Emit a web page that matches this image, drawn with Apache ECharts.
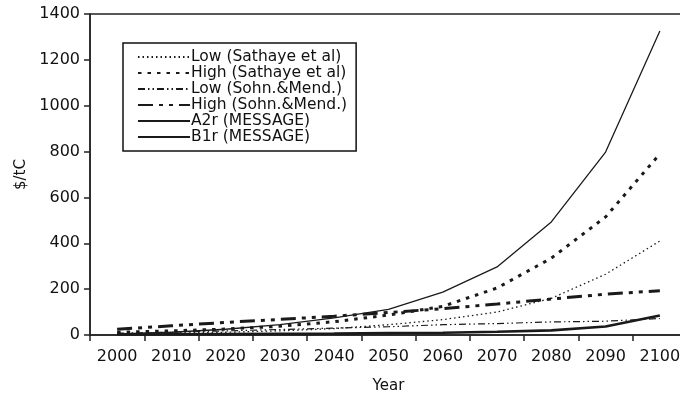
<!DOCTYPE html>
<html>
<head>
<meta charset="utf-8">
<script src="https://cdn.jsdelivr.net/npm/echarts@6/dist/echarts.min.js"></script>
<style>html,body{margin:0;padding:0;background:#fff}#c{width:680px;height:397px}</style>
</head>
<body>
<div id="c"></div>
<script>
const years = ['2000','2010','2020','2030','2040','2050','2060','2070','2080','2090','2100'];
const lowSathaye  = [5, 8, 12, 18, 28, 45, 67, 100, 160, 265, 410];
const highSathaye = [12, 18, 26, 38, 58, 87, 125, 205, 335, 515, 790];
const lowSohn     = [8, 12, 18, 24, 30, 36, 45, 50, 57, 60, 72];
const highSohn    = [25, 40, 55, 68, 82, 98, 115, 135, 157, 178, 193];
const a2r         = [5, 12, 25, 45, 75, 112, 187, 297, 493, 798, 1326];
const b1r         = [2, 3, 4, 5, 6, 8, 10, 14, 20, 37, 85];
const yTicks = [0, 200, 400, 600, 800, 1000, 1200, 1400];

const FONT = 'DejaVu Sans';
const K = '#1a1a1a';
function ser(name, data, width, type) {
  return {
    name, type: 'line', data, symbol: 'none', smooth: false,
    lineStyle: { color: K, width, type },
    itemStyle: { color: K },
    emphasis: { disabled: true }
  };
}
const chart = echarts.init(document.getElementById('c'), null, { renderer: 'canvas' });
chart.setOption({
  animation: false,
  backgroundColor: '#fff',
  textStyle: { fontFamily: FONT },
  grid: { left: 90, top: 14, width: 597, height: 321, outerBoundsMode: 'none', containLabel: false,
    show: true, borderColor: '#222', borderWidth: 1.5, backgroundColor: 'transparent' },
  legend: {
    orient: 'vertical', left: 123, top: 43,
    padding: [6, 9, 6, 14],
    borderColor: '#111', borderWidth: 1.5,
    itemWidth: 52, itemHeight: 14, itemGap: 0,
    itemStyle: { opacity: 0 },
    textStyle: { fontFamily: FONT, fontSize: 15.5, color: '#111', lineHeight: 16, padding: [0, 0, 0, -4] },
    data: ['Low (Sathaye et al)', 'High (Sathaye et al)', 'Low (Sohn.&Mend.)', 'High (Sohn.&Mend.)', 'A2r (MESSAGE)', 'B1r (MESSAGE)']
  },
  xAxis: {
    type: 'category', data: years, boundaryGap: true,
    name: 'Year', nameLocation: 'middle', nameGap: 44,
    nameTextStyle: { fontFamily: FONT, fontSize: 15, color: '#111' },
    axisLine: { lineStyle: { color: '#222', width: 1.5 } },
    axisTick: { show: true, length: 6, lineStyle: { color: '#222', width: 1.5 } },
    axisLabel: { fontFamily: FONT, fontSize: 16, color: '#111', margin: 14 },
    splitLine: { show: false }
  },
  yAxis: {
    type: 'value', min: 0, max: 1400, interval: 200,
    name: '$/tC', nameLocation: 'middle', nameGap: 57, nameRotate: 90,
    nameTextStyle: { fontFamily: FONT, fontSize: 15, color: '#111' },
    axisLine: { show: true, lineStyle: { color: '#222', width: 1.5 } },
    axisTick: { show: true, length: 6, lineStyle: { color: '#222', width: 1.5 } },
    axisLabel: { fontFamily: FONT, fontSize: 16, color: '#111', margin: 10,
      formatter: v => yTicks.includes(v) ? String(v) : '' },
    splitLine: { show: false }
  },
  series: [
    ser('Low (Sathaye et al)', lowSathaye, 1.3, [1.5, 3]),
    ser('High (Sathaye et al)', highSathaye, 3, [3.5, 6]),
    ser('Low (Sohn.&Mend.)', lowSohn, 1.2, [7, 3, 1.5, 3, 1.5, 3]),
    ser('High (Sohn.&Mend.)', highSohn, 3, [15, 6, 4, 6, 4, 6]),
    ser('A2r (MESSAGE)', a2r, 1.3, 'solid'),
    ser('B1r (MESSAGE)', b1r, 2.6, 'solid')
  ]
});
</script>
</body>
</html>
